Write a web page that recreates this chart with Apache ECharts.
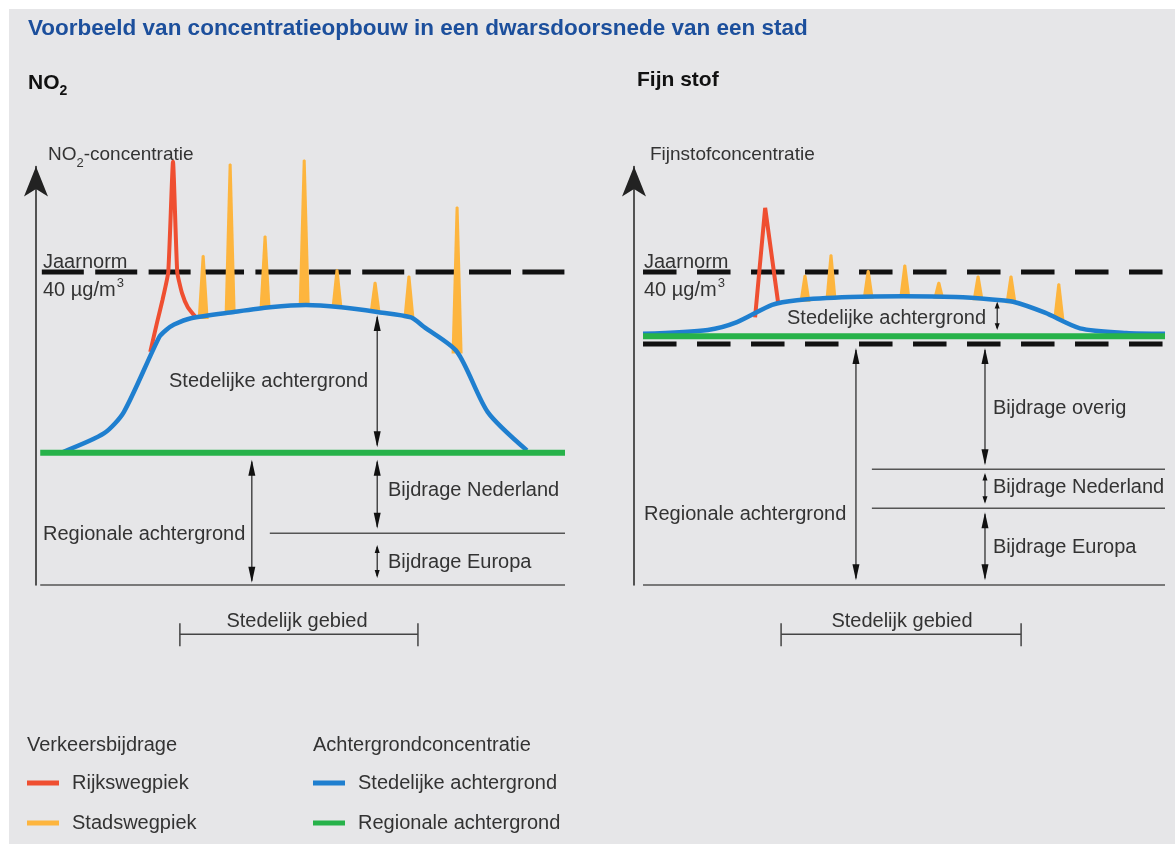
<!DOCTYPE html>
<html>
<head>
<meta charset="utf-8">
<title>Concentratieopbouw</title>
<script src="https://cdn.jsdelivr.net/npm/echarts@6/dist/echarts.min.js"></script>
<style>
  html, body { margin: 0; padding: 0; background: #ffffff; }
  #main { position: absolute; left: 9px; top: 9px; width: 1166px; height: 835px; background: #e6e6e8; }
</style>
</head>
<body>
<div id="main"></div>
<script>
// ---- data: links NO2, rechts fijn stof (x = afstand 0-100, y = concentratie, jaarnorm = 40)
var no2Stad   = [[5.1,17.0],[12.9,19.4],[16.6,22.1],[23.3,31.7],[24.6,32.6],[26.1,33.3],[29.3,34.1],[37.4,34.9],[44.2,35.5],[51.0,35.8],[57.7,35.5],[64.5,34.9],[70.9,34.2],[73.3,33.0],[79.6,29.8],[85.4,22.1],[92.8,17.2]];
var no2Rijk   = [[21.6,29.8],[22.9,33.6],[23.9,36.4],[25.0,40.0],[25.9,54.1],[26.7,40.0],[27.6,37.3],[28.7,35.5],[30.1,34.3]];
var no2Spikes = [[31.6,34.0,42.2],[36.7,34.7,53.9],[43.3,35.3,44.7],[50.7,35.7,54.4],[56.9,35.4,40.4],[64.1,34.8,38.8],[70.5,34.1,39.6],[79.6,29.6,48.4]];
var no2Regio  = [[0.8,16.9],[100,16.9]];
var no2Norm   = [[1.1,40],[100,40]];
var no2Split  = [[44.2,6.6],[100,6.6]];
var no2Base   = [[0.8,0],[100,0]];
var no2Arrows = [[64.5,34.5,17.6],[64.5,16.0,7.2],[64.5,5.1,0.9],[40.8,16.0,0.3]];
var no2Gebied = [[27.2,72.2,-6.3]];

var pmStad   = [[1.7,32.1],[13.9,32.6],[19.4,33.6],[26.0,35.8],[30.7,36.4],[40.7,36.8],[50.7,36.9],[60.6,36.8],[67.4,36.5],[71.4,36.2],[77.4,34.8],[84.0,32.8],[92.7,32.2],[100,32.1]];
var pmRijk   = [[22.8,34.2],[24.7,48.2],[27.2,35.8]];
var pmSpikes = [[32.2,36.2,39.7],[37.1,36.5,42.3],[44.1,36.6,40.3],[51.0,36.7,41.0],[57.4,36.6,38.8],[64.8,36.4,39.6],[71.0,36.0,39.6],[80.0,34.0,38.6]];
var pmRegio  = [[1.7,31.8],[100,31.8]];
var pmNorm   = [[1.7,40],[100,40]];
var pmOnder  = [[1.7,30.8],[100,30.8]];
var pmSplit1 = [[44.8,14.8],[100,14.8]];
var pmSplit2 = [[44.8,9.8],[100,9.8]];
var pmBase   = [[1.7,0],[100,0]];
var pmArrows = [[68.4,36.2,32.6],[41.8,30.3,0.6],[66.1,30.3,15.3],[66.1,14.3,10.4],[66.1,9.3,0.6]];
var pmGebied = [[27.7,72.9,-6.3]];

var FONT = '"Liberation Sans Narrow","Arial Narrow","Liberation Sans",sans-serif';
var RED = '#ef4f31', ORANGE = '#fdb53e', BLUE = '#1f7fcf', GREEN = '#27b24a', INK = '#333333';
var OX = 9, OY = 9; // offset van de grijze plaat

var myChart = echarts.init(document.getElementById('main'));

var ctx = document.createElement('canvas').getContext('2d');
function tw(txt, size, bold) {
    ctx.font = (bold ? 'bold ' : '') + size + 'px ' + FONT;
    return ctx.measureText(txt).width;
}

// tekst op pixelpositie (pagina-coordinaten)
function label(txt, x, y, opt) {
    opt = opt || {};
    return {
        type: 'text', x: x - OX, y: y - OY, silent: true,
        style: {
            text: txt, fill: opt.color || INK,
            font: (opt.bold ? 'bold ' : '') + (opt.size || 20) + 'px ' + FONT,
            textAlign: opt.align || 'left', textVerticalAlign: 'middle'
        }
    };
}

function spikeItem(params, api) {
    var b = api.coord([api.value(0), api.value(1)]);
    var t = api.coord([api.value(0), api.value(2)]);
    return {
        type: 'polygon',
        shape: { points: [[b[0] - 5.5, b[1]], [t[0] - 1.5, t[1] + 1], [t[0], t[1]], [t[0] + 1.5, t[1] + 1], [b[0] + 5.5, b[1]]] },
        style: { fill: ORANGE }
    };
}

function arrowItem(params, api) {
    var a = api.coord([api.value(0), api.value(1)]);
    var b = api.coord([api.value(0), api.value(2)]);
    var len = Math.abs(b[1] - a[1]);
    var h = Math.min(16, len * 0.24), w = h > 10 ? 3.5 : 2.5;
    return {
        type: 'group',
        children: [
            { type: 'line', shape: { x1: a[0], y1: a[1] + 2, x2: b[0], y2: b[1] - 2 }, style: { stroke: '#222', lineWidth: 1.2 } },
            { type: 'polygon', shape: { points: [[a[0], a[1]], [a[0] - w, a[1] + h], [a[0] + w, a[1] + h]] }, style: { fill: '#111' } },
            { type: 'polygon', shape: { points: [[b[0], b[1]], [b[0] - w, b[1] - h], [b[0] + w, b[1] - h]] }, style: { fill: '#111' } }
        ]
    };
}

function bracketItem(params, api) {
    var a = api.coord([api.value(0), api.value(2)]);
    var b = api.coord([api.value(1), api.value(2)]);
    var s = { stroke: '#444', lineWidth: 1.5 };
    return {
        type: 'group',
        children: [
            { type: 'line', shape: { x1: a[0], y1: a[1], x2: b[0], y2: b[1] }, style: s },
            { type: 'line', shape: { x1: a[0], y1: a[1] - 11, x2: a[0], y2: a[1] + 12 }, style: s },
            { type: 'line', shape: { x1: b[0], y1: b[1] - 11, x2: b[0], y2: b[1] + 12 }, style: s }
        ]
    };
}

function plain(name, data, gi, color, width, extra) {
    var s = {
        name: name, type: 'line', data: data, xAxisIndex: gi, yAxisIndex: gi,
        symbol: 'none', silent: true, clip: false, animation: false,
        lineStyle: { color: color, width: width },
        itemStyle: { color: color }
    };
    for (var k in extra) s[k] = extra[k];
    if (extra && extra.dash) { s.lineStyle.type = extra.dash; s.lineStyle.cap = 'butt'; delete s.dash; }
    return s;
}

function panel(gi, d) {
    return [
        plain('bodem' + gi, d.base, gi, '#555', 1.5),
        plain('norm' + gi, d.norm, gi, '#111', 5, { dash: d.dash, z: 1 }),
        {
            name: 'Stadswegpiek', type: 'custom', xAxisIndex: gi, yAxisIndex: gi,
            data: d.spikes, renderItem: spikeItem, itemStyle: { color: ORANGE },
            silent: true, animation: false, z: 3
        },
        plain('Rijkswegpiek', d.rijk, gi, RED, 4, { z: 3, smooth: d.smooth }),
        plain('Stedelijke achtergrond', d.stad, gi, BLUE, 4.5, { z: 4, smooth: 0.25 }),
        plain('Regionale achtergrond', d.regio, gi, GREEN, 6, { z: 5 }),
        {
            name: 'pijlen' + gi, type: 'custom', xAxisIndex: gi, yAxisIndex: gi,
            data: d.arrows, renderItem: arrowItem, silent: true, animation: false, z: 6
        },
        {
            name: 'gebied' + gi, type: 'custom', xAxisIndex: gi, yAxisIndex: gi,
            data: d.gebied, renderItem: bracketItem, silent: true, animation: false, z: 6
        }
    ];
}

var series = [].concat(
    panel(0, { base: no2Base, norm: no2Norm, dash: [42, 11.4], spikes: no2Spikes, rijk: no2Rijk, smooth: 0.15,
               stad: no2Stad, regio: no2Regio, arrows: no2Arrows, gebied: no2Gebied }),
    panel(1, { base: pmBase, norm: pmNorm, dash: [33.5, 20.5], spikes: pmSpikes, rijk: pmRijk, smooth: false,
               stad: pmStad, regio: pmRegio, arrows: pmArrows, gebied: pmGebied }),
    [
        plain('scheiding0', no2Split, 0, '#555', 1.5),
        plain('onder1', pmOnder, 1, '#111', 5, { dash: [33.5, 20.5], z: 1 }),
        plain('scheiding1a', pmSplit1, 1, '#555', 1.5),
        plain('scheiding1b', pmSplit2, 1, '#555', 1.5)
    ]
);

function yAx(gi) {
    return {
        type: 'value', gridIndex: gi, min: 0, max: 53.5,
        splitLine: { show: false }, axisTick: { show: false }, axisLabel: { show: false },
        axisLine: { show: true, lineStyle: { color: '#222', width: 1.5 }, symbol: ['none', 'arrow'], symbolSize: [18, 30] }
    };
}
function xAx(gi) {
    return {
        type: 'value', gridIndex: gi, min: 0, max: 100,
        splitLine: { show: false }, axisTick: { show: false }, axisLabel: { show: false }, axisLine: { show: false }
    };
}

// teksten
var g = [];
var titel = 'Voorbeeld van concentratieopbouw in een dwarsdoorsnede van een stad';
g.push(label(titel, 28, 29, { bold: true, size: 22.5, color: '#1c4f9c' }));
g.push(label('NO', 28, 83, { bold: true, size: 21, color: '#111' }));
g.push(label('2', 28 + tw('NO', 21, true), 91, { bold: true, size: 14, color: '#111' }));
g.push(label('Fijn stof', 637, 80, { bold: true, size: 21, color: '#111' }));

g.push(label('NO', 48, 155, { size: 19 }));
g.push(label('2', 48 + tw('NO', 19), 163, { size: 13 }));
g.push(label('-concentratie', 48 + tw('NO', 19) + tw('2', 13), 155, { size: 19 }));
g.push(label('Fijnstofconcentratie', 650, 155, { size: 19 }));

[43, 644].forEach(function (x) {
    g.push(label('Jaarnorm', x, 262));
    g.push(label('40 \u00b5g/m', x, 290));
    g.push(label('3', x + tw('40 \u00b5g/m', 20) + 1, 283, { size: 13 }));
});

g.push(label('Stedelijke achtergrond', 368, 381, { align: 'right' }));
g.push(label('Bijdrage Nederland', 388, 490));
g.push(label('Bijdrage Europa', 388, 562));
g.push(label('Regionale achtergrond', 43, 534));
g.push(label('Stedelijk gebied', 297, 621, { align: 'center' }));

g.push(label('Stedelijke achtergrond', 986, 318, { align: 'right' }));
g.push(label('Bijdrage overig', 993, 408));
g.push(label('Bijdrage Nederland', 993, 487));
g.push(label('Bijdrage Europa', 993, 547));
g.push(label('Regionale achtergrond', 644, 514));
g.push(label('Stedelijk gebied', 902, 621, { align: 'center' }));

g.push(label('Verkeersbijdrage', 27, 745));
g.push(label('Achtergrondconcentratie', 313, 745));

function legendAt(left, names, colors) {
    return {
        orient: 'vertical', left: left - OX, top: 773 - OY, itemWidth: 32, itemHeight: 5, itemGap: 20,
        padding: 0, selectedMode: false, icon: 'rect',
        textStyle: { fontFamily: FONT, fontSize: 20, color: INK, padding: [0, 0, 0, 8] },
        data: names.map(function (n, i) { return { name: n, itemStyle: { color: colors[i] } }; })
    };
}

option = {
    backgroundColor: '#e6e6e8',
    animation: false,
    textStyle: { fontFamily: FONT },
    grid: [
        { left: 36 - OX, right: 1175 - 565, top: 166.4 - OY, bottom: 844 - 585 },
        { left: 634 - OX, right: 10, top: 166.4 - OY, bottom: 844 - 585 }
    ],
    xAxis: [xAx(0), xAx(1)],
    yAxis: [yAx(0), yAx(1)],
    legend: [
        legendAt(27, ['Rijkswegpiek', 'Stadswegpiek'], [RED, ORANGE]),
        legendAt(313, ['Stedelijke achtergrond', 'Regionale achtergrond'], [BLUE, GREEN])
    ],
    graphic: g,
    series: series
};

myChart.setOption(option);
</script>
</body>
</html>
